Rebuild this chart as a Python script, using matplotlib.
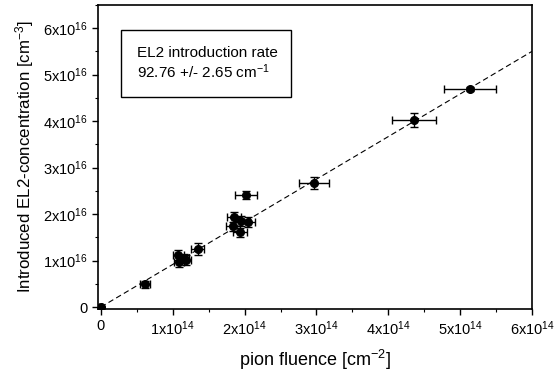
import numpy as np
import matplotlib
matplotlib.use("Agg")
import matplotlib.pyplot as plt
from matplotlib.patches import Rectangle
from matplotlib.ticker import MultipleLocator, FuncFormatter

plt.rcParams['font.family'] = ['Liberation Sans', 'DejaVu Sans']
plt.rcParams['mathtext.fontset'] = 'custom'
plt.rcParams['mathtext.rm'] = 'Liberation Sans'
plt.rcParams['mathtext.it'] = 'Liberation Sans'

# fluence in 1e14 cm^-2, concentration in 1e16 cm^-3
fluence = [0.0, 0.62, 1.08, 1.16, 1.09, 1.19, 1.35,
           1.85, 1.95, 2.05, 1.84, 1.94, 2.02, 2.97, 4.36, 5.14]
fluence_err = [0.02, 0.07, 0.07, 0.07, 0.07, 0.07, 0.09,
               0.10, 0.10, 0.10, 0.10, 0.10, 0.15, 0.21, 0.31, 0.36]
conc = [0.0, 0.49, 1.12, 1.05, 0.97, 1.01, 1.25,
        1.94, 1.85, 1.83, 1.74, 1.61, 2.41, 2.67, 4.02, 4.69]
conc_err = [0.03, 0.07, 0.10, 0.10, 0.10, 0.10, 0.12,
            0.10, 0.10, 0.10, 0.10, 0.10, 0.08, 0.13, 0.15, 0.05]

fit_x = [0.0, 6.0]
fit_y = [0.0, 5.5]

fig = plt.figure(figsize=(5.6, 3.74), dpi=100)
ax = fig.add_axes([0.175, 0.174, 0.775, 0.813])

ax.plot(fit_x, fit_y, color='black', linestyle=(0, (5, 3)), linewidth=0.8)
ax.errorbar(fluence, conc, xerr=fluence_err, yerr=conc_err, fmt='o',
            color='black', markersize=5.5, elinewidth=1.0, capsize=3,
            capthick=1.0)

ax.set_xlim(-0.04, 6.0)
ax.set_ylim(-0.04, 6.5)
ax.xaxis.set_major_locator(MultipleLocator(1))
ax.xaxis.set_minor_locator(MultipleLocator(0.5))
ax.yaxis.set_major_locator(MultipleLocator(1))
ax.yaxis.set_minor_locator(MultipleLocator(0.5))


def fmt_x(v, pos):
    n = int(round(v))
    return '0' if n == 0 else '%dx10$^{14}$' % n


def fmt_y(v, pos):
    n = int(round(v))
    return '0' if n == 0 else '%dx10$^{16}$' % n


ax.xaxis.set_major_formatter(FuncFormatter(fmt_x))
ax.yaxis.set_major_formatter(FuncFormatter(fmt_y))
ax.tick_params(which='major', direction='out', length=4, width=1, labelsize=10.5)
ax.tick_params(which='minor', direction='out', length=2.5, width=0.8)
for s in ax.spines.values():
    s.set_linewidth(1.2)

ax.set_xlabel('pion fluence [cm$^{-2}$]', fontsize=13, labelpad=7)
ax.set_ylabel('Introduced EL2-concentration [cm$^{-3}$]', fontsize=12.2, labelpad=5)

ax.add_patch(Rectangle((0.053, 0.697), 0.392, 0.221, transform=ax.transAxes,
                       fill=False, edgecolor='black', linewidth=1.0))
ax.text(0.09, 0.842, 'EL2 introduction rate', transform=ax.transAxes,
        fontsize=11, va='center')
ax.text(0.09, 0.78, '92.76 +/- 2.65 cm$^{-1}$', transform=ax.transAxes,
        fontsize=11, va='center')

fig.savefig('out.png', dpi=100)
